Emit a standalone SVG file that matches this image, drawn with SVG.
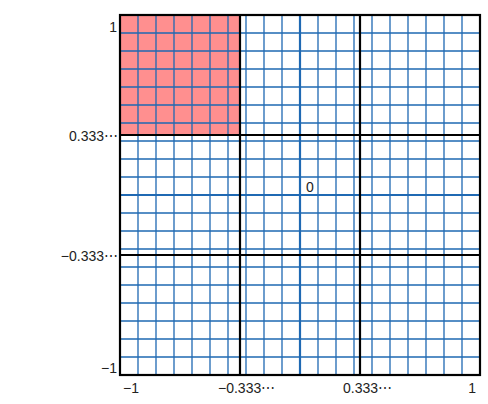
<svg xmlns="http://www.w3.org/2000/svg" width="488" height="404" viewBox="0 0 488 404">
<style>
.g{stroke:#1f69b3;stroke-width:1.3;fill:none}
.z{stroke:#1f69b3;stroke-width:2.2;fill:none}
.k{stroke:#000;stroke-width:2.2;fill:none}
.t{font-family:"Liberation Sans",Arial,sans-serif;font-size:14px;fill:#222}
</style>
<rect width="488" height="404" fill="#fff"/>
<rect id="region" x="120" y="15" width="120" height="120" fill="#ff8f8f"/>
<g id="grid">
<path class="g" d="M138 15V375M156 15V375M174 15V375M192 15V375M210 15V375M228 15V375M246 15V375M264 15V375M282 15V375M318 15V375M336 15V375M354 15V375M372 15V375M390 15V375M408 15V375M426 15V375M444 15V375M462 15V375"/>
<path class="g" d="M120 33H480M120 51H480M120 69H480M120 87H480M120 105H480M120 123H480M120 141H480M120 159H480M120 177H480M120 213H480M120 231H480M120 249H480M120 267H480M120 285H480M120 303H480M120 321H480M120 339H480M120 357H480"/>
<path class="z" d="M300 15V375M120 195H480"/>
<path class="k" d="M240 15V375M360 15V375M120 135H480M120 255H480"/>
<rect class="k" x="120" y="15" width="360" height="360" stroke-width="2.6"/>
</g>
<g id="labels">
<text class="t" x="117" y="32" text-anchor="end">1</text>
<text class="t" x="118" y="141" text-anchor="end">0.333⋯</text>
<text class="t" x="118" y="261" text-anchor="end">−0.333⋯</text>
<text class="t" x="117" y="373" text-anchor="end">−1</text>
<text class="t" x="306" y="192">0</text>
<text class="t" x="123" y="393">−1</text>
<text class="t" x="218" y="393">−0.333⋯</text>
<text class="t" x="343" y="393">0.333⋯</text>
<text class="t" x="476" y="393" text-anchor="end">1</text>
</g>
</svg>
